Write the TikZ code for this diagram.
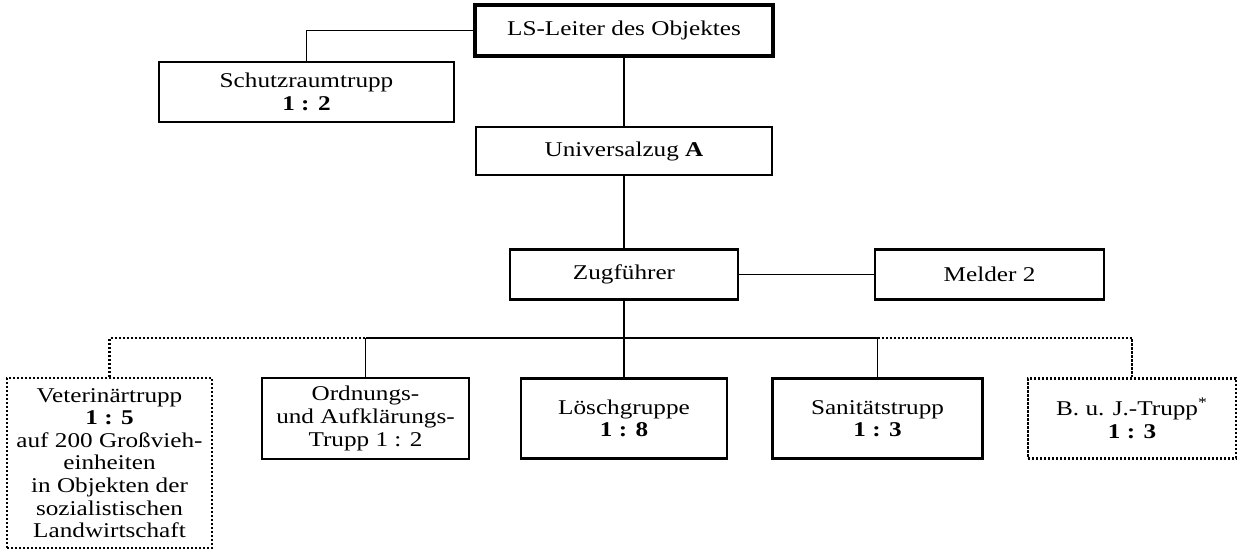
\documentclass[tikz,border=0pt]{standalone}
\usepackage{fontspec}
\setmainfont[FakeStretch=1.2]{Liberation Serif}
\begin{document}
\begin{tikzpicture}[x=0.5pt,y=-0.5pt,
  box/.style={draw, line width=1.1pt, rectangle, align=center, inner sep=0pt,
    font=\fontsize{10.5}{11.3}\selectfont},
  mainbox/.style={box, line width=2pt},
  dotbox/.style={box, line width=1.1pt, dash pattern=on 1.1pt off 0.9pt},
  conn/.style={line width=0.8pt},
  dotconn/.style={line width=1.1pt, dash pattern=on 1.1pt off 0.9pt}]
\useasboundingbox (0,0) rectangle (1242,549);
\node[mainbox, minimum width=149pt, minimum height=25.5pt] (LS) at (624,30.5) {LS-Leiter des Objektes};
\node[box, minimum width=147.5pt, minimum height=30pt] (SR) at (306.5,92) {Schutzraumtrupp\\\textbf{1 : 2}};
\node[box, minimum width=148pt, minimum height=24pt] (UZ) at (624,151) {Universalzug \textbf{A}};
\node[box, minimum width=114pt, minimum height=25pt] (ZF) at (624,274.5) {Zugführer};
\node[box, minimum width=114.5pt, minimum height=25pt] (ME) at (989.5,274.5) {Melder 2};
\node[dotbox, minimum width=102.5pt, minimum height=85pt] (VT) at (109.5,463) {Veterinärtrupp\\\textbf{1 : 5}\\auf 200 Großvieh-\\einheiten\\in Objekten der\\sozialistischen\\Landwirtschaft};
\node[box, minimum width=103.5pt, minimum height=40.5pt] (OA) at (365.5,418.5) {Ordnungs-\\und Aufklärungs-\\Trupp 1 : 2};
\node[box, minimum width=103pt, minimum height=40pt] (LG) at (624,418.5) {Löschgruppe\\\textbf{1 : 8}};
\node[box, minimum width=105pt, minimum height=40pt] (ST) at (877.5,418.5) {Sanitätstrupp\\\textbf{1 : 3}};
\node[dotbox, minimum width=104pt, minimum height=40pt] (BJ) at (1132,418.5) {B. u. J.-Trupp\textsuperscript{*}\\\textbf{1 : 3}};
\coordinate (bus) at (624,338);
\draw[conn] (LS.west) -| (SR.north);
\draw[conn] (LS.south) -- (UZ.north);
\draw[conn] (UZ.south) -- (ZF.north);
\draw[conn] (ZF.east) -- (ME.west);
\draw[conn] (ZF.south) -- (LG.north);
\draw[conn] (bus -| OA.north) -- (bus -| ST.north);
\draw[conn] (OA.north) -- (bus -| OA.north);
\draw[conn] (ST.north) -- (bus -| ST.north);
\draw[dotconn] (VT.north) |- (bus -| OA.north);
\draw[dotconn] (bus -| ST.north) -| (BJ.north);
\end{tikzpicture}
\end{document}
